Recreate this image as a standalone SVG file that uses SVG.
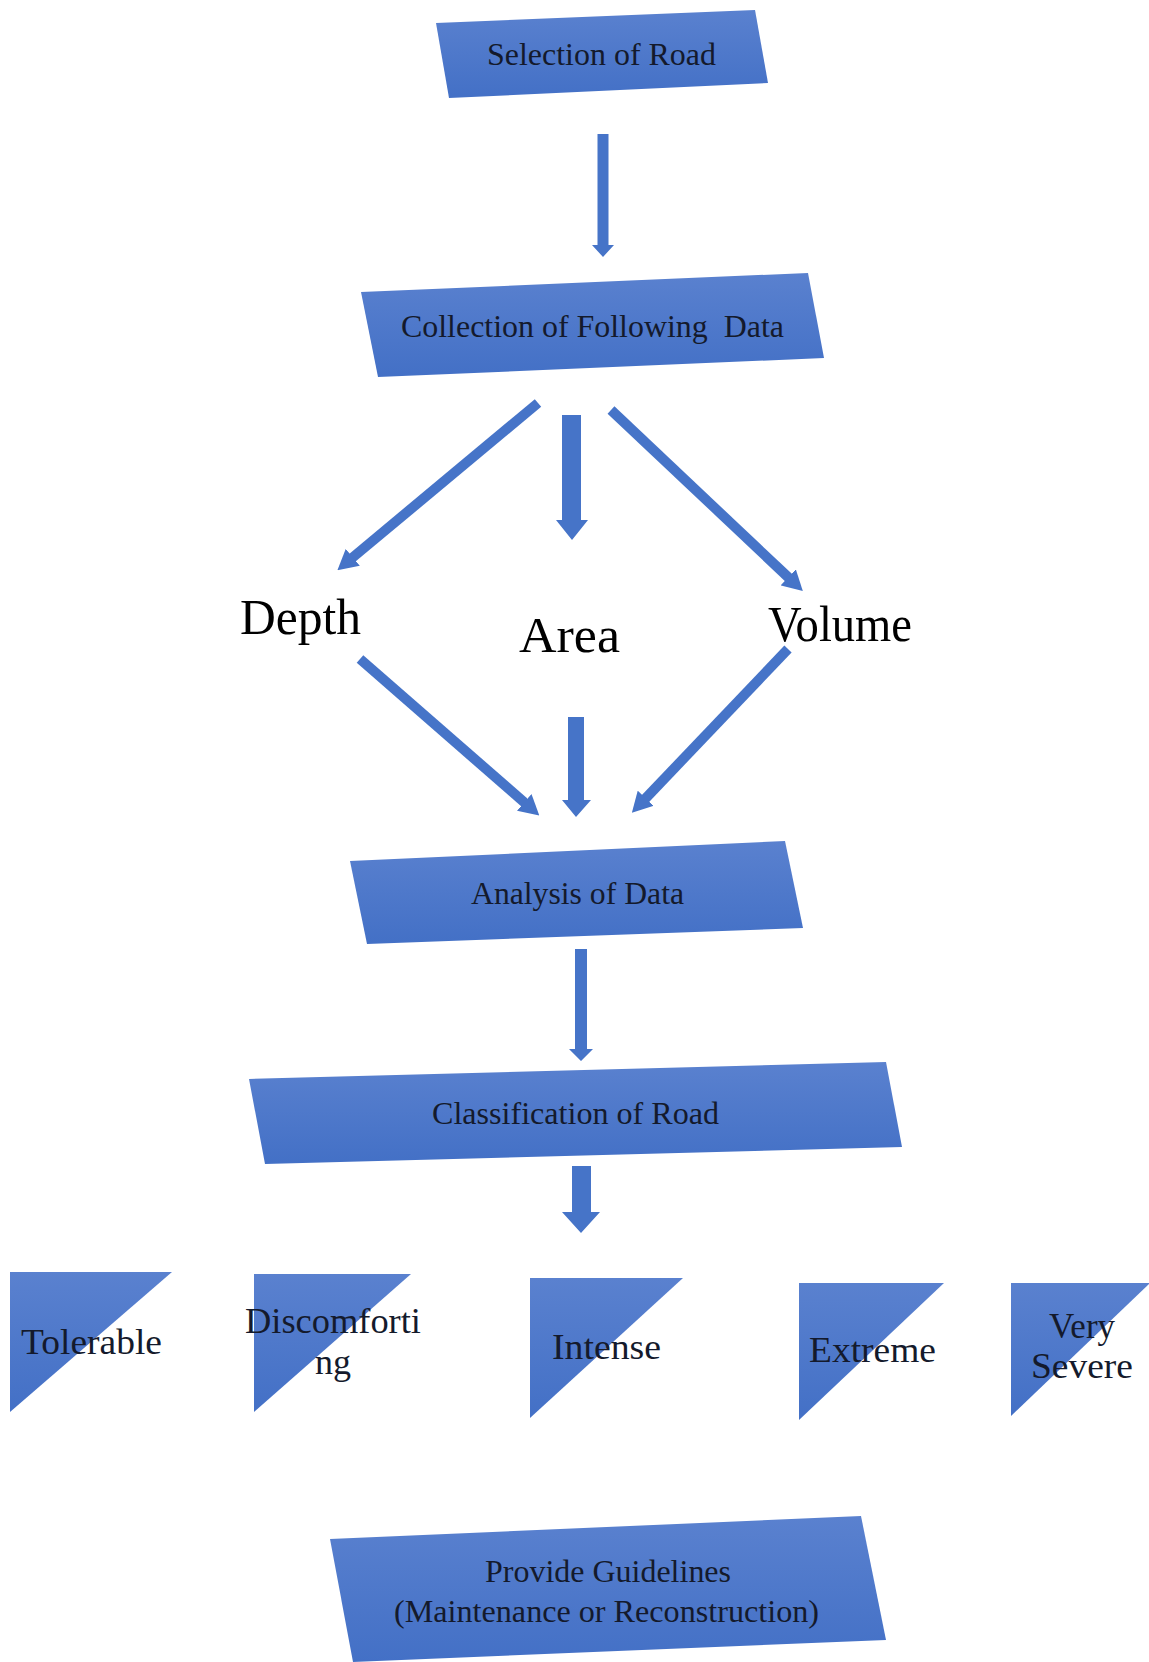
<svg xmlns="http://www.w3.org/2000/svg" width="1149" height="1662" viewBox="0 0 1149 1662">
<style>
.box{fill:url(#g);}
.tri{fill:url(#g);}
.t{font-family:"Liberation Serif","Times New Roman",serif;fill:#141a2c;}
.bt{font-size:32px;}
.lt{font-size:36px;}
.big{font-size:50px;fill:#000;}
.pre{white-space:pre;}
.arr{fill:#4674c8;}
.dl{stroke:#4674c8;stroke-width:10;fill:none;marker-end:url(#ah);}
</style>
<defs>
<linearGradient id="g" x1="0" y1="0" x2="0" y2="1">
<stop offset="0" stop-color="#5a81cf"/>
<stop offset="1" stop-color="#4370c6"/>
</linearGradient>
<marker id="ah" markerUnits="userSpaceOnUse" markerWidth="20" markerHeight="22" viewBox="0 0 20 22" refX="1" refY="11" orient="auto">
<path d="M0,0 L20,11 L0,22 z" fill="#4674c8"/>
</marker>
</defs>
<rect width="1149" height="1662" fill="#fff"/>

<g id="n1">
<polygon class="box" points="436,23 755,10 768,83 449,98"/>
<text class="t bt" x="487" y="65" textLength="229" lengthAdjust="spacingAndGlyphs">Selection of Road</text>
</g>
<g id="n2">
<polygon class="box" points="361,292 808,273 824,358 378,377"/>
<text class="t bt pre" x="401" y="337" textLength="383" lengthAdjust="spacingAndGlyphs" xml:space="preserve">Collection of Following  Data</text>
</g>
<g id="n-depth">
<text class="t big" x="240" y="634" textLength="121" lengthAdjust="spacingAndGlyphs">Depth</text>
</g>
<g id="n-area">
<text class="t big" x="519" y="652" textLength="101" lengthAdjust="spacingAndGlyphs">Area</text>
</g>
<g id="n-volume">
<text class="t big" x="768" y="641" textLength="144" lengthAdjust="spacingAndGlyphs">Volume</text>
</g>
<g id="n3">
<polygon class="box" points="350,861 785,841 803,928 367,944"/>
<text class="t bt" x="471" y="904" textLength="213" lengthAdjust="spacingAndGlyphs">Analysis of Data</text>
</g>
<g id="n4">
<polygon class="box" points="249,1079 886,1062 902,1147 265,1164"/>
<text class="t bt" x="432" y="1124" textLength="287" lengthAdjust="spacingAndGlyphs">Classification of Road</text>
</g>
<g id="c1">
<polygon class="tri" points="10,1272 172,1272 10,1412"/>
<text class="t lt" x="21" y="1354" textLength="141" lengthAdjust="spacingAndGlyphs">Tolerable</text>
</g>
<g id="c2">
<polygon class="tri" points="254,1274 411,1274 254,1412"/>
<text class="t lt" x="245" y="1333" textLength="176" lengthAdjust="spacingAndGlyphs">Discomforti</text>
<text class="t lt" x="315" y="1374" textLength="36" lengthAdjust="spacingAndGlyphs">ng</text>
</g>
<g id="c3">
<polygon class="tri" points="530,1278 683,1278 530,1418"/>
<text class="t lt" x="552" y="1359" textLength="109" lengthAdjust="spacingAndGlyphs">Intense</text>
</g>
<g id="c4">
<polygon class="tri" points="799,1283 944,1283 799,1420"/>
<text class="t lt" x="809" y="1362" textLength="127" lengthAdjust="spacingAndGlyphs">Extreme</text>
</g>
<g id="c5">
<polygon class="tri" points="1011,1283 1149,1283 1149,1284 1011,1416"/>
<text class="t lt" x="1049" y="1338" textLength="66" lengthAdjust="spacingAndGlyphs">Very</text>
<text class="t lt" x="1031" y="1378" textLength="102" lengthAdjust="spacingAndGlyphs">Severe</text>
</g>
<g id="n5">
<polygon class="box" points="330,1539 861,1516 886,1640 353,1662"/>
<text class="t bt" x="485" y="1582" textLength="246" lengthAdjust="spacingAndGlyphs">Provide Guidelines</text>
<text class="t bt" x="394" y="1622" textLength="425" lengthAdjust="spacingAndGlyphs">(Maintenance or Reconstruction)</text>
</g>

<g id="connectors">
<polygon class="arr" points="597.5,134 608.5,134 608.5,245 614,245 603,257 592,245 597.5,245"/>
<polygon class="arr" points="562,415 581,415 581,520 588,520 572,540 556,520 562,520"/>
<polygon class="arr" points="568,717 584,717 584,800 591,800 576,817 562,800 568,800"/>
<polygon class="arr" points="575,949 587,949 587,1049 593,1049 581,1061 569,1049 575,1049"/>
<polygon class="arr" points="572,1166 591,1166 591,1212 600,1212 581,1233 562,1212 572,1212"/>
<line class="dl" x1="538" y1="403" x2="352" y2="558"/>
<line class="dl" x1="611" y1="410" x2="789" y2="578"/>
<line class="dl" x1="360" y1="659" x2="525" y2="803"/>
<line class="dl" x1="788" y1="649" x2="645" y2="799"/>
</g>
</svg>
